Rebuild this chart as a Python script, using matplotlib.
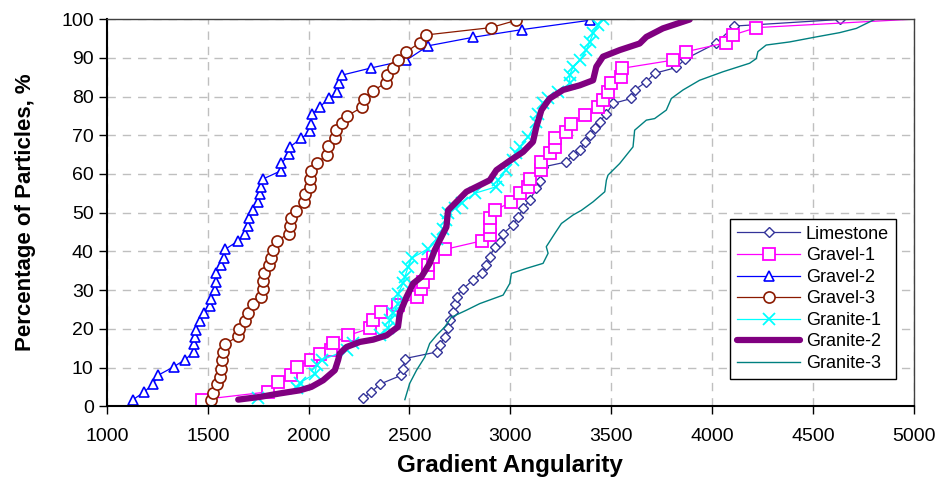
import matplotlib
matplotlib.use("Agg")
import matplotlib.pyplot as plt

plt.rcParams['font.family'] = ['Liberation Sans', 'DejaVu Sans']

# ==============================
# Data
# ==============================
limestone_x = [2270, 2311, 2353, 2460, 2468, 2477, 2634, 2650, 2675, 2691, 2700, 2716, 2724, 2733,
               2766, 2815, 2857, 2881, 2898, 2923, 2947, 2964, 3013, 3038, 3063, 3096, 3129, 3145,
               3162, 3278, 3311, 3344, 3369, 3393, 3418, 3443, 3476, 3509, 3600, 3616, 3674, 3715,
               3823, 3864, 4018, 4110, 4632]
limestone_y = [2, 3.7, 5.7, 8, 9.7, 12.3, 14, 15.8, 17.9, 20.1, 22.2, 24.4, 26.5, 28.2,
               30.4, 32.6, 34.3, 36.4, 38.6, 41.2, 42.5, 44.6, 46.8, 48.9, 51.1, 53.2, 56.3, 58.2,
               61.8, 63.1, 64.9, 66.1, 68.3, 70, 71.8, 73.5, 75.6, 78.2, 79.5, 81.7, 83.8, 86,
               87.5, 89.6, 93.7, 98.2, 99.9]

gravel1_x = [1469, 1799, 1849, 1915, 1940, 2014, 2055, 2113, 2121, 2196, 2303, 2320, 2361, 2443,
             2535, 2559, 2567, 2592, 2592, 2617, 2675, 2857, 2898, 2898, 2898, 2923, 3005, 3046,
             3088, 3096, 3154, 3154, 3195, 3220, 3220, 3278, 3302, 3369, 3434, 3460, 3484, 3501,
             3550, 3555, 3806, 3872, 4070, 4103, 4219, 5000]
gravel1_y = [1.7, 3.7, 6.3, 8, 10.2, 12, 13.6, 14.5, 16.2, 18.3, 20.1, 22.2, 24.4, 26.1,
             28.2, 30.4, 32.1, 34.3, 36.4, 38.6, 40.5, 42.7, 44.2, 46.3, 48.5, 50.6, 52.8, 55,
             56.7, 58.8, 61, 63.1, 65.3, 67, 69.2, 70.9, 73, 75.2, 77.3, 79, 81.2, 83.4,
             85.1, 87.3, 89.4, 91.6, 93.9, 95.9, 97.8, 100]

gravel2_x = [1130, 1185, 1229, 1254, 1332, 1386, 1432, 1432, 1437, 1441, 1461, 1481, 1510, 1518,
             1535, 1540, 1543, 1568, 1580, 1585, 1651, 1684, 1697, 1705, 1722, 1750, 1758, 1766,
             1774, 1862, 1865, 1903, 1907, 1964, 2009, 2011, 2016, 2055, 2100, 2141, 2151, 2163,
             2311, 2485, 2592, 2815, 3059, 3393]
gravel2_y = [1.7, 3.7, 5.7, 8, 10.2, 12, 14, 16, 17.9, 19.8, 22, 24, 26, 27.8,
             30, 32, 34.3, 36.4, 38.4, 40.5, 42.7, 44.6, 46.5, 48.5, 50.6, 52.8, 54.7, 56.7,
             58.7, 60.8, 62.7, 65.1, 67, 69.2, 71, 73, 75.4, 77.3, 79.5, 81.2, 83.4, 85.5,
             87.4, 89.4, 93.1, 95.3, 97.3, 99.7]

gravel3_x = [1515, 1527, 1546, 1560, 1568, 1573, 1576, 1585, 1651, 1655, 1684, 1700, 1722, 1766,
             1774, 1774, 1779, 1804, 1813, 1821, 1841, 1902, 1907, 1912, 1936, 1976, 1981, 2006,
             2009, 2014, 2042, 2093, 2096, 2130, 2138, 2167, 2191, 2267, 2275, 2319, 2382, 2386,
             2419, 2443, 2485, 2551, 2581, 2903, 3030]
gravel3_y = [1.5, 3.4, 5.7, 7.6, 9.7, 11.9, 14, 16, 18.1, 20, 22, 24.1, 26.3, 28.2,
             30.4, 32.3, 34.4, 36.4, 38.4, 40.3, 42.7, 44.6, 46.5, 48.5, 50.5, 52.8, 54.7, 56.7,
             58.7, 60.8, 62.9, 65, 67.2, 69.3, 71.3, 73.2, 75, 77.3, 79.3, 81.5, 83.5, 85.5,
             87.4, 89.4, 91.6, 93.9, 95.9, 97.8, 99.7]

granite1_x = [1750, 1940, 1956, 2031, 2039, 2064, 2188, 2221, 2353, 2394, 2402, 2419, 2443, 2443,
              2468, 2477, 2493, 2510, 2592, 2634, 2666, 2683, 2691, 2724, 2758, 2823, 2931, 2939,
              2980, 3013, 3030, 3046, 3088, 3129, 3137, 3162, 3187, 3236, 3294, 3294, 3311, 3344,
              3377, 3393, 3410, 3434, 3459]
granite1_y = [2, 4.6, 6, 8.4, 10.6, 11.9, 14.5, 16.2, 18.3, 20.1, 22.2, 24, 26.5, 29.1,
              31.7, 33.4, 36, 38.2, 40.7, 43.3, 45.9, 48.1, 49.8, 51.1, 52.5, 55, 56.7, 58.4,
              61, 63.6, 65.3, 67, 69.6, 73.5, 75.6, 78.2, 79.5, 81.2, 83.4, 85.5, 87.7, 89.4,
              92, 94.1, 96.3, 98.4, 99.9]

granite2_x = [1651, 1758, 1857, 1956, 2014, 2072, 2130, 2146, 2154, 2188, 2254, 2320, 2386, 2443,
              2452, 2485, 2518, 2559, 2600, 2625, 2650, 2683, 2691, 2716, 2782, 2848, 2898, 2931,
              2997, 3063, 3112, 3129, 3154, 3195, 3261, 3344, 3410, 3426, 3459, 3542, 3641, 3674,
              3756, 3889]
granite2_y = [1.7, 2.4, 3.3, 4.1, 5, 6.7, 9.3, 11.9, 13.6, 15.3, 16.6, 17.2, 18.3, 20.5,
              24, 28.2, 31.7, 33.4, 36.9, 40.3, 42.9, 46.3, 50.6, 51.9, 55.4, 57.1, 58.4, 61,
              63.4, 65.7, 68.3, 72.2, 76.5, 79.5, 81.7, 82.9, 84.2, 87.7, 90.3, 92, 93.7, 95.4,
              97.6, 99.9]

granite3_x = [2477, 2501, 2535, 2576, 2600, 2634, 2675, 2708, 2782, 2848, 2964, 2997, 3005, 3079,
              3162, 3187, 3178, 3220, 3253, 3311, 3352, 3410, 3468, 3476, 3484, 3542, 3608, 3616,
              3674, 3715, 3773, 3798, 3856, 3938, 4054, 4186, 4219, 4227, 4268, 4384, 4516, 4632,
              4715, 4797, 4810]
granite3_y = [1.7, 5.9, 9.3, 12.7, 16.2, 18.3, 20.5, 23, 24.8, 26.5, 28.7, 31.7, 34.3, 35.6,
              36.9, 39.5, 41.2, 44.6, 47.2, 49.4, 50.6, 52.8, 55.4, 58.4, 59.7, 62.7, 67, 71.3,
              73.9, 74.3, 76.5, 79.5, 81.7, 84.2, 86.4, 88.6, 89.8, 91.6, 93.3, 94.1, 95.4, 96.5,
              97.6, 99.7, 100]

x_ticks = [1000, 1500, 2000, 2500, 3000, 3500, 4000, 4500, 5000]
y_ticks = [0, 10, 20, 30, 40, 50, 60, 70, 80, 90, 100]

# ==============================
# Plot
# ==============================
fig, ax = plt.subplots(figsize=(9.46, 4.9), dpi=100)
fig.subplots_adjust(left=0.113, right=0.966, bottom=0.171, top=0.961)

ax.plot(limestone_x, limestone_y, color="#333399", lw=0.9, marker="D", ms=5.5,
        mfc="white", mec="#333399", mew=1.0, label="Limestone")
ax.plot(gravel1_x, gravel1_y, color="#FF00FF", lw=0.9, marker="s", ms=8.5,
        mfc="white", mec="#FF00FF", mew=1.3, markevery=slice(0, len(gravel1_x) - 1), label="Gravel-1")
ax.plot(gravel2_x, gravel2_y, color="#0000FF", lw=0.9, marker="^", ms=7,
        mfc="white", mec="#0000FF", mew=1.2, label="Gravel-2")
ax.plot(gravel3_x, gravel3_y, color="#8B1A00", lw=0.9, marker="o", ms=8,
        mfc="white", mec="#8B1A00", mew=1.2, label="Gravel-3")
ax.plot(granite1_x, granite1_y, color="#00FFFF", lw=0.9, marker="x", ms=8,
        mew=1.3, label="Granite-1")
ax.plot(granite2_x, granite2_y, color="#800080", lw=4.5, solid_capstyle="round", label="Granite-2")
ax.plot(granite3_x, granite3_y, color="#008080", lw=1.0, label="Granite-3")

ax.set_xlim(1000, 5000)
ax.set_ylim(0, 100)
ax.set_xticks(x_ticks)
ax.set_yticks(y_ticks)
ax.tick_params(axis="both", labelsize=14, direction="out", length=6, width=1)
ax.tick_params(axis="x", pad=10)
ax.grid(True, color="#BFBFBF", linestyle=(0, (6, 5)), linewidth=1)
ax.set_axisbelow(True)

for side in ["left", "bottom"]:
    ax.spines[side].set_linewidth(1.5)
    ax.spines[side].set_color("black")
for side in ["top", "right"]:
    ax.spines[side].set_linewidth(1)
    ax.spines[side].set_color("#404040")

ax.set_xlabel("Gradient Angularity", fontsize=17.5, fontweight="bold", labelpad=6)
ax.set_ylabel("Percentage of Particles, %", fontsize=16, fontweight="bold", labelpad=18)

leg = ax.legend(loc="lower right", bbox_to_anchor=(0.978, 0.07), borderaxespad=0, fontsize=13,
                handlelength=3.5, fancybox=False, edgecolor="black", framealpha=1,
                borderpad=0.4, labelspacing=0.25, handletextpad=0.3)
leg.get_frame().set_linewidth(1)

fig.savefig("out.png", dpi=100)
